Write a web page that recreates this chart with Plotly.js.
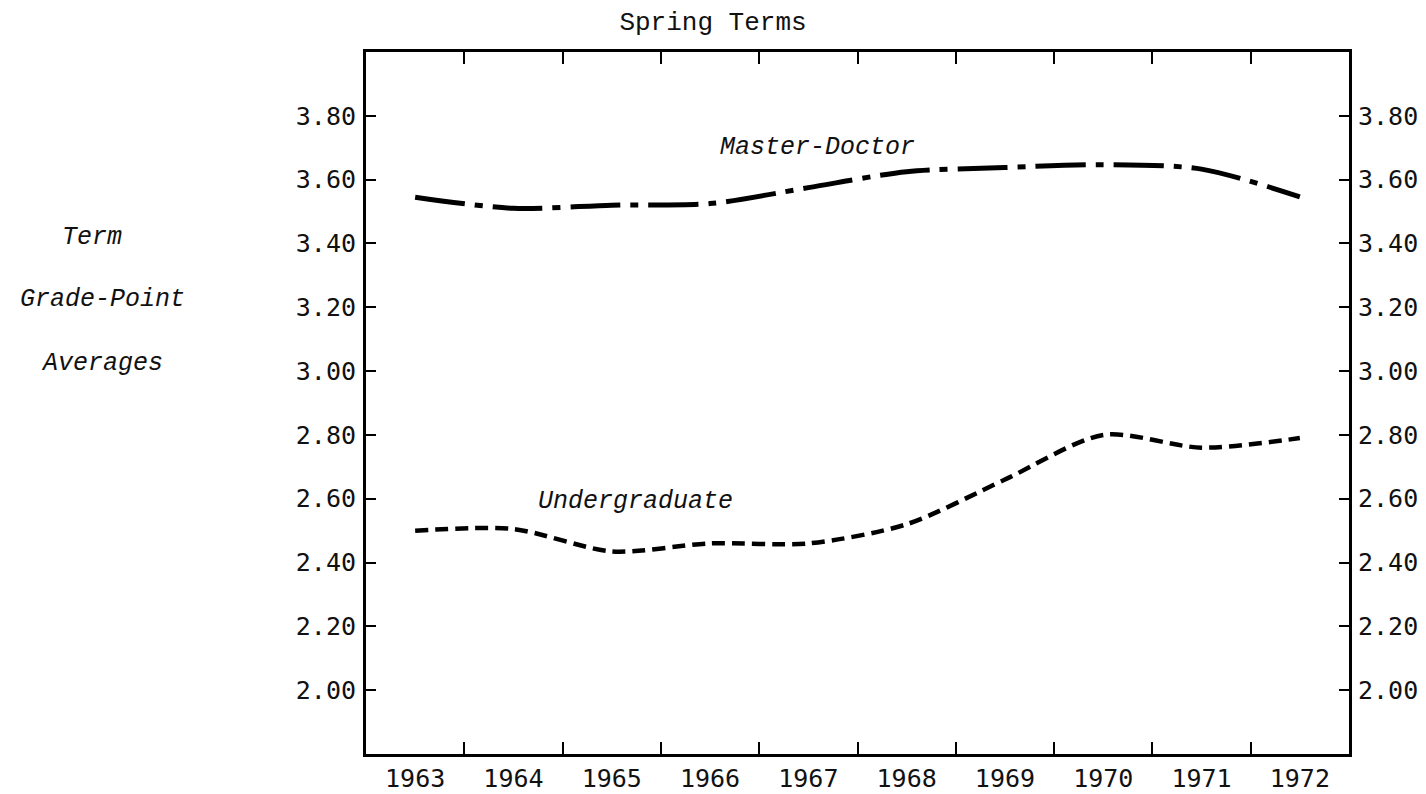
<!DOCTYPE html>
<html><head><meta charset="utf-8">
<script src="https://cdn.plot.ly/plotly-3.0.1.min.js"></script>
<style>html,body{margin:0;padding:0;background:#fff}</style>
</head><body><div id="chart" style="width:1426px;height:794px"></div>
<script>
const years = ['1963','1964','1965','1966','1967','1968','1969','1970','1971','1972'];
const masterDoctor = [3.545, 3.51, 3.52, 3.525, 3.575, 3.625, 3.638, 3.647, 3.633, 3.546];
const undergraduate = [2.50, 2.505, 2.435, 2.46, 2.46, 2.52, 2.66, 2.80, 2.76, 2.79];
const yTickVals = [2.0, 2.2, 2.4, 2.6, 2.8, 3.0, 3.2, 3.4, 3.6, 3.8];
const yTickText = ['2.00','2.20','2.40','2.60','2.80','3.00','3.20','3.40','3.60','3.80'];
const seriesNames = ['Master-Doctor', 'Undergraduate'];
const yTitleLines = ['Term', 'Grade-Point', 'Averages'];
const chartTitle = 'Spring Terms';

const tickFont = {family: 'DejaVu Sans Mono, monospace', size: 25, color: '#111'};
const italicFont = {family: 'Liberation Mono, Courier New, monospace', size: 25, color: '#111', style: 'italic'};
const yRange = [1.80, 4.0];

const traces = [
  {x: years, y: masterDoctor, name: seriesNames[0], type: 'scatter', mode: 'lines',
   line: {color: '#000', width: 5, shape: 'spline', smoothing: 0.8, dash: '50px,10px,8px,10px'}},
  {x: years, y: undergraduate, name: seriesNames[1], type: 'scatter', mode: 'lines',
   line: {color: '#000', width: 4.5, shape: 'spline', smoothing: 0.8, dash: '13px,7px'}},
  {x: years, y: undergraduate, yaxis: 'y2', type: 'scatter', mode: 'lines',
   line: {width: 0}, hoverinfo: 'skip', showlegend: false}
];

const layout = {
  width: 1426, height: 794,
  margin: {l: 366, r: 77, t: 52, b: 40, pad: 0},
  paper_bgcolor: '#fff', plot_bgcolor: '#fff',
  showlegend: false,
  title: {text: chartTitle, x: 0.5, xref: 'container', y: 0.974, yref: 'container',
          xanchor: 'center', yanchor: 'middle',
          font: {family: 'Liberation Mono, Courier New, monospace', size: 26, color: '#111'}},
  xaxis: {type: 'category', range: [-0.5, 9.5], tickson: 'boundaries',
          ticks: 'inside', ticklen: 12, tickwidth: 2, tickcolor: '#000',
          showline: true, linecolor: '#000', linewidth: 3, mirror: 'ticks',
          showgrid: false, zeroline: false, tickfont: tickFont},
  yaxis: {range: yRange, tickmode: 'array', tickvals: yTickVals, ticktext: yTickText,
          ticks: 'inside', ticklen: 10, tickwidth: 2, tickcolor: '#000',
          showline: true, linecolor: '#000', linewidth: 3, mirror: true,
          showgrid: false, zeroline: false, tickfont: tickFont, ticklabelstandoff: 2},
  yaxis2: {range: yRange, overlaying: 'y', side: 'right', tickmode: 'array',
           tickvals: yTickVals, ticktext: yTickText,
           ticks: 'inside', ticklen: 10, tickwidth: 2, tickcolor: '#000',
           showline: false, showgrid: false, zeroline: false, tickfont: tickFont,
           ticklabelstandoff: 8},
  annotations: [
    {text: seriesNames[0], x: years.indexOf('1968'), y: 3.70, xref: 'x', yref: 'y', showarrow: false,
     xanchor: 'right', yanchor: 'middle', xshift: 10, font: italicFont},
    {text: seriesNames[1], x: years.indexOf('1965'), y: 2.59, xref: 'x', yref: 'y', showarrow: false,
     xanchor: 'center', yanchor: 'middle', xshift: 24, font: italicFont},
    {text: yTitleLines[0], x: 92, y: 237, showarrow: false, font: italicFont},
    {text: yTitleLines[1], x: 102, y: 300, showarrow: false, font: italicFont},
    {text: yTitleLines[2], x: 102, y: 363, showarrow: false, font: italicFont}
  ]
};
// y-title lines: convert page pixel positions to paper coordinates
(function(){
  const m = layout.margin;
  const pw = layout.width - m.l - m.r, ph = layout.height - m.t - m.b;
  layout.annotations.slice(2).forEach(a => {
    const px = a.x, py = a.y;
    a.xref = 'paper'; a.yref = 'paper';
    a.x = (px - m.l) / pw; a.y = 1 - (py - m.t) / ph;
    a.xanchor = 'center'; a.yanchor = 'middle';
  });
})();
Plotly.newPlot('chart', traces, layout, {displayModeBar: false, staticPlot: true});
</script></body></html>
